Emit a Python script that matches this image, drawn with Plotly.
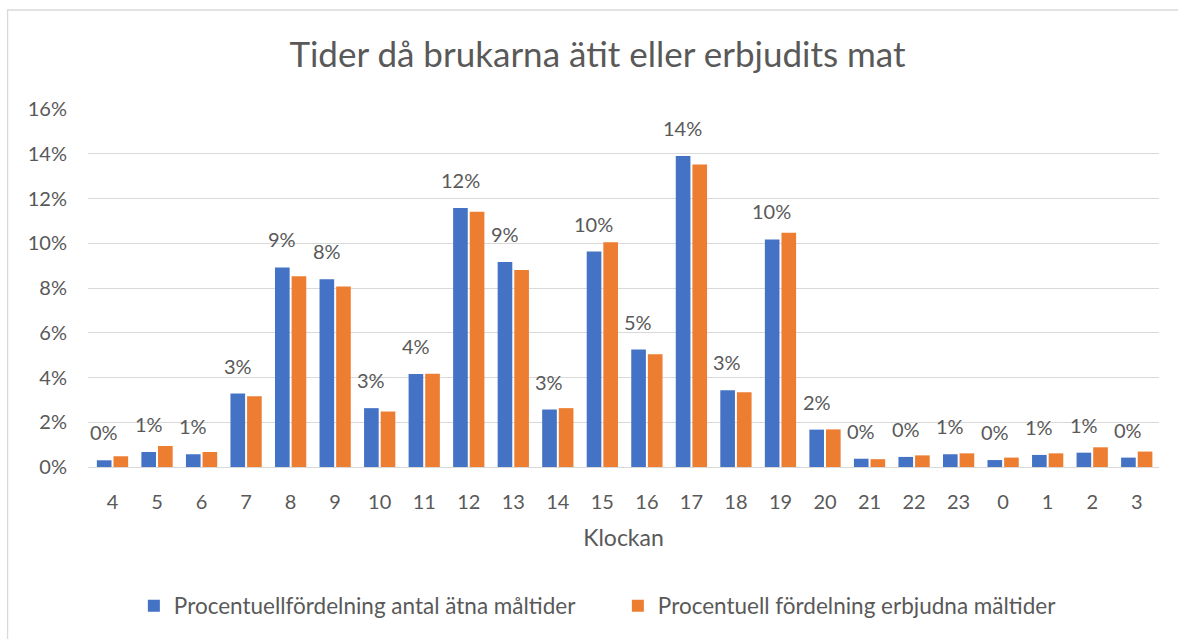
import plotly.graph_objects as go

hours = ["4", "5", "6", "7", "8", "9", "10", "11", "12", "13", "14", "15",
         "16", "17", "18", "19", "20", "21", "22", "23", "0", "1", "2", "3"]
eaten = [0.0030, 0.0067, 0.0057, 0.0328, 0.0892, 0.0839, 0.0263, 0.0416,
         0.1157, 0.0916, 0.0257, 0.0963, 0.0525, 0.1390, 0.0343, 0.1017,
         0.0167, 0.0037, 0.0045, 0.0057, 0.0031, 0.0054, 0.0064, 0.0042]
offered = [0.0048, 0.0094, 0.0067, 0.0316, 0.0853, 0.0807, 0.0248, 0.0417,
           0.1141, 0.0881, 0.0263, 0.1005, 0.0504, 0.1352, 0.0334, 0.1047,
           0.0168, 0.0035, 0.0052, 0.0061, 0.0042, 0.0061, 0.0088, 0.0069]
name_eaten = "Procentuellfördelning antal ätna måltider"
name_offered = "Procentuell fördelning erbjudna mältider"
title_text = "Tider då brukarna ätit eller erbjudits mat"
x_title = "Klockan"

FONT = "Lato"
TXT = "#595959"
GRID = "#D9D9D9"

fig = go.Figure()
fig.add_trace(go.Bar(x=hours, y=eaten, name=name_eaten, marker_color="#4472C4",
                     marker_line_width=0))
fig.add_trace(go.Bar(x=hours, y=offered, name=name_offered, marker_color="#ED7D31",
                     marker_line_width=0))

for i, v in enumerate(eaten):
    fig.add_annotation(x=i, y=v, text=f"{round(v * 100):.0f}%", showarrow=False,
                       xanchor="center", yanchor="bottom", xshift=-8.5, yshift=14,
                       font=dict(family=FONT, size=20, color=TXT))

fig.update_layout(
    width=1178, height=639,
    margin=dict(l=88, r=19, t=109, b=172),
    paper_bgcolor="white", plot_bgcolor="white",
    barmode="group", bargap=0.253, bargroupgap=0.12,
    font=dict(family=FONT, size=20, color=TXT),
    title=dict(text=title_text, x=597.5 / 1178, xref="container", xanchor="center",
               y=1 - 55 / 639, yref="container", yanchor="middle",
               font=dict(family=FONT, size=35, color=TXT)),
    legend=dict(orientation="h", xref="container", x=148 / 1178 - 0.012, xanchor="left",
                yref="container", y=1 - 606 / 639, yanchor="middle",
                font=dict(family=FONT, size=22.5, color=TXT),
                itemwidth=30, tracegroupgap=0,
                entrywidth=439, entrywidthmode="pixels"),
    showlegend=True,
)
fig.update_yaxes(range=[0, 0.16], dtick=0.02, tickformat=".0%",
                 showgrid=True, gridcolor=GRID, gridwidth=1.3,
                 zeroline=False, showline=False, ticks="",
                 ticklabelstandoff=20,
                 tickfont=dict(family=FONT, size=20, color=TXT))
fig.update_xaxes(showgrid=False, showline=True, linecolor=GRID, linewidth=1.3,
                 ticks="", ticklabelstandoff=17,
                 tickfont=dict(family=FONT, size=20, color=TXT),
                 title=dict(text=x_title, standoff=17,
                            font=dict(family=FONT, size=23, color=TXT)))

# outer chart border (left and top edges visible)
fig.add_shape(type="path", xref="paper", yref="paper",
              path="M -0.0751,-0.5 L -0.0751,1.2765 L 1.0177,1.2765",
              line=dict(color=GRID, width=1.3), fillcolor="rgba(0,0,0,0)",
              layer="below")

fig.write_html("out.html", config={"displayModeBar": False},
               post_script="document.body.style.margin='0';"
                           "document.body.style.overflow='hidden';")
